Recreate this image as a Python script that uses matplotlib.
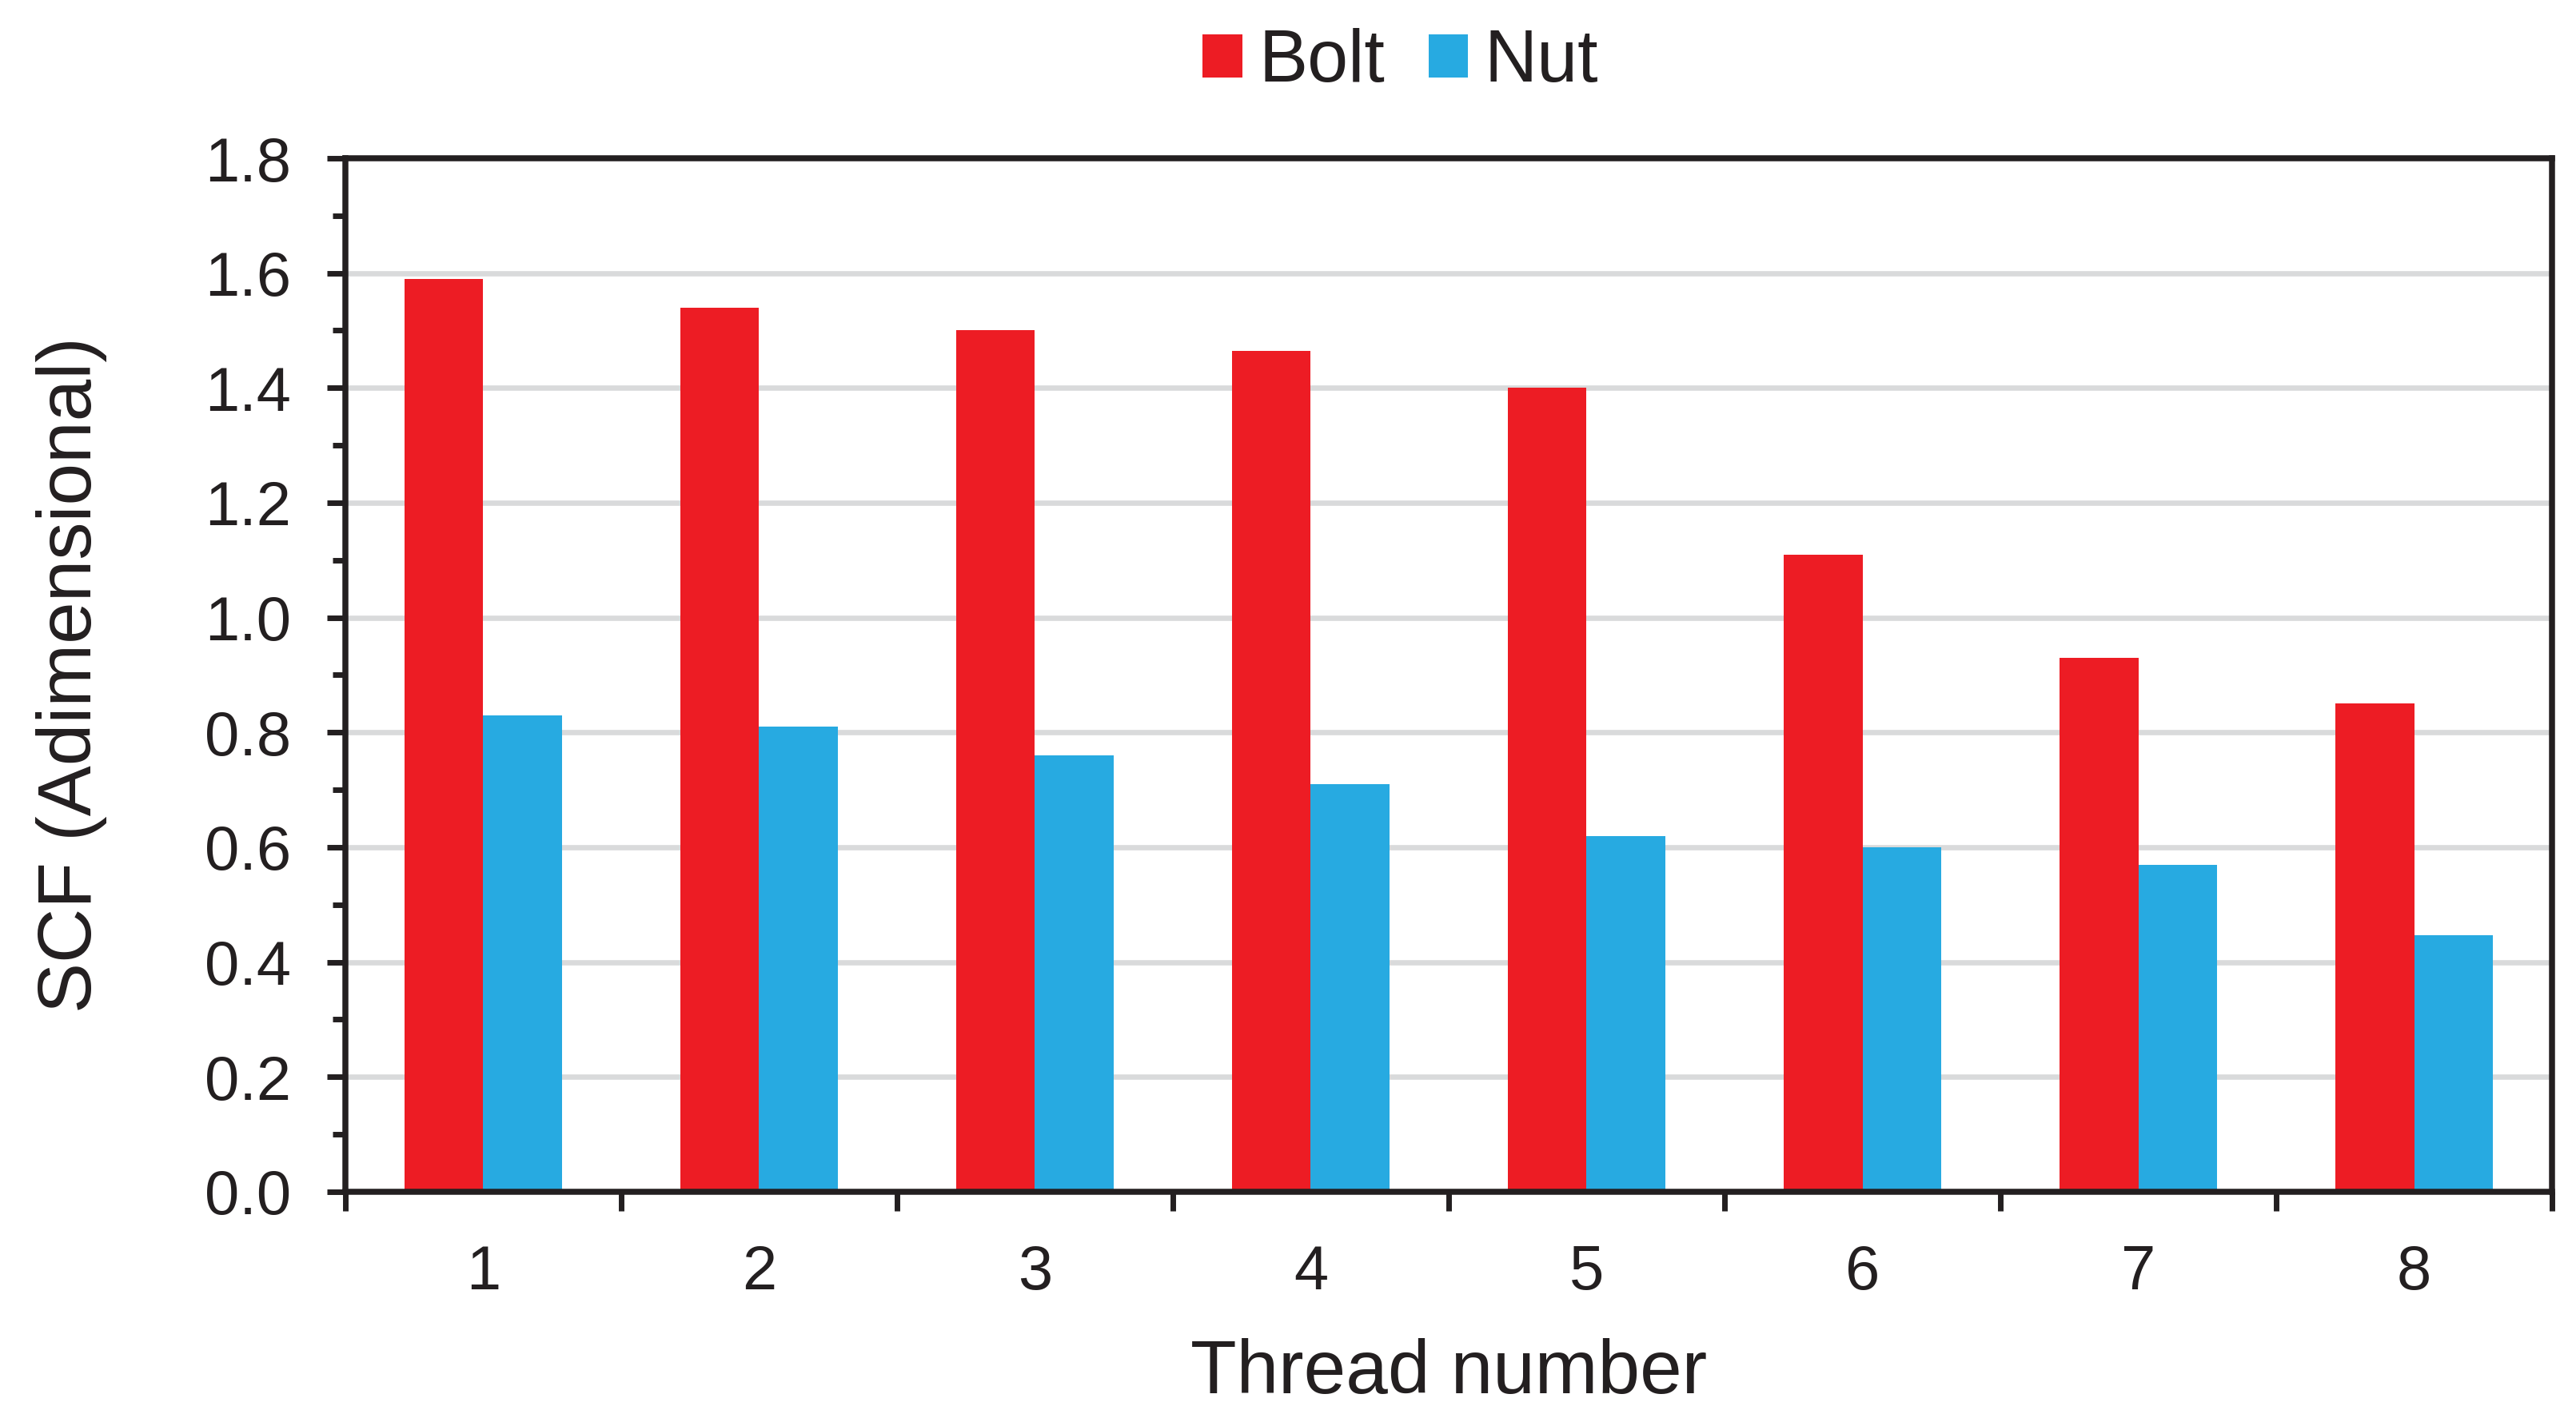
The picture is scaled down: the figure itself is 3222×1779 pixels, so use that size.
import numpy as np
import matplotlib.pyplot as plt
from matplotlib.ticker import MultipleLocator, FixedLocator, NullFormatter

# values
threads = [1, 2, 3, 4, 5, 6, 7, 8]
bolt = [1.59, 1.54, 1.50, 1.465, 1.40, 1.11, 0.93, 0.85]
nut = [0.83, 0.81, 0.76, 0.71, 0.62, 0.60, 0.57, 0.447]

plt.rcParams['font.family'] = ['Liberation Sans', 'DejaVu Sans']

ink = '#231f20'
red = '#ed1c24'
blue = '#27aae1'

fig = plt.figure(figsize=(16.115, 8.895), dpi=200)
ax = fig.add_axes([0.134, 0.1619, 0.8564, 0.7268])

x = np.array(threads)
w = 0.285
ax.bar(x - w / 2, bolt, w, color=red, label='Bolt', zorder=2)
ax.bar(x + w / 2, nut, w, color=blue, label='Nut', zorder=2)

ax.set_xlim(0.5, 8.5)
ax.set_ylim(0, 1.8)

# y axis: major every 0.2, minor every 0.1
ax.yaxis.set_major_locator(MultipleLocator(0.2))
ax.yaxis.set_minor_locator(MultipleLocator(0.1))
ax.set_yticklabels([f'{v:.1f}' for v in ax.get_yticks()])
ax.tick_params(axis='y', which='major', direction='out', length=8.3, width=2.5,
               color=ink, labelsize=28, labelcolor=ink, pad=16)
ax.tick_params(axis='y', which='minor', direction='out', length=5.8, width=2.5,
               color=ink)

# x axis: ticks at category boundaries, labels centred on groups
ax.xaxis.set_major_locator(FixedLocator(np.arange(0.5, 9, 1)))
ax.xaxis.set_major_formatter(NullFormatter())
ax.xaxis.set_minor_locator(FixedLocator(x))
ax.xaxis.set_minor_formatter(plt.FixedFormatter([str(t) for t in threads]))
ax.tick_params(axis='x', which='major', direction='out', length=8.6, width=2.5,
               color=ink)
ax.tick_params(axis='x', which='minor', length=0, labelsize=28,
               labelcolor=ink, pad=23.5)

for s in ax.spines.values():
    s.set_linewidth(2.7)
    s.set_color(ink)
    s.set_zorder(3)

for v in np.arange(0.2, 1.7, 0.2):
    ax.axhline(v, color='#d9dadb', linewidth=2.4, zorder=1)

ax.set_xlabel('Thread number', fontsize=34, color=ink, labelpad=16)
ax.set_ylabel('SCF (Adimensional)', fontsize=34, color=ink, labelpad=44)

fig.legend(loc='center', bbox_to_anchor=(0.5435, 0.956), ncol=2, frameon=False,
           fontsize=33, handlelength=0.54, handleheight=0.54,
           handletextpad=0.22, columnspacing=0.6, labelcolor=ink)

fig.savefig('out.png', dpi=200, facecolor='white')
